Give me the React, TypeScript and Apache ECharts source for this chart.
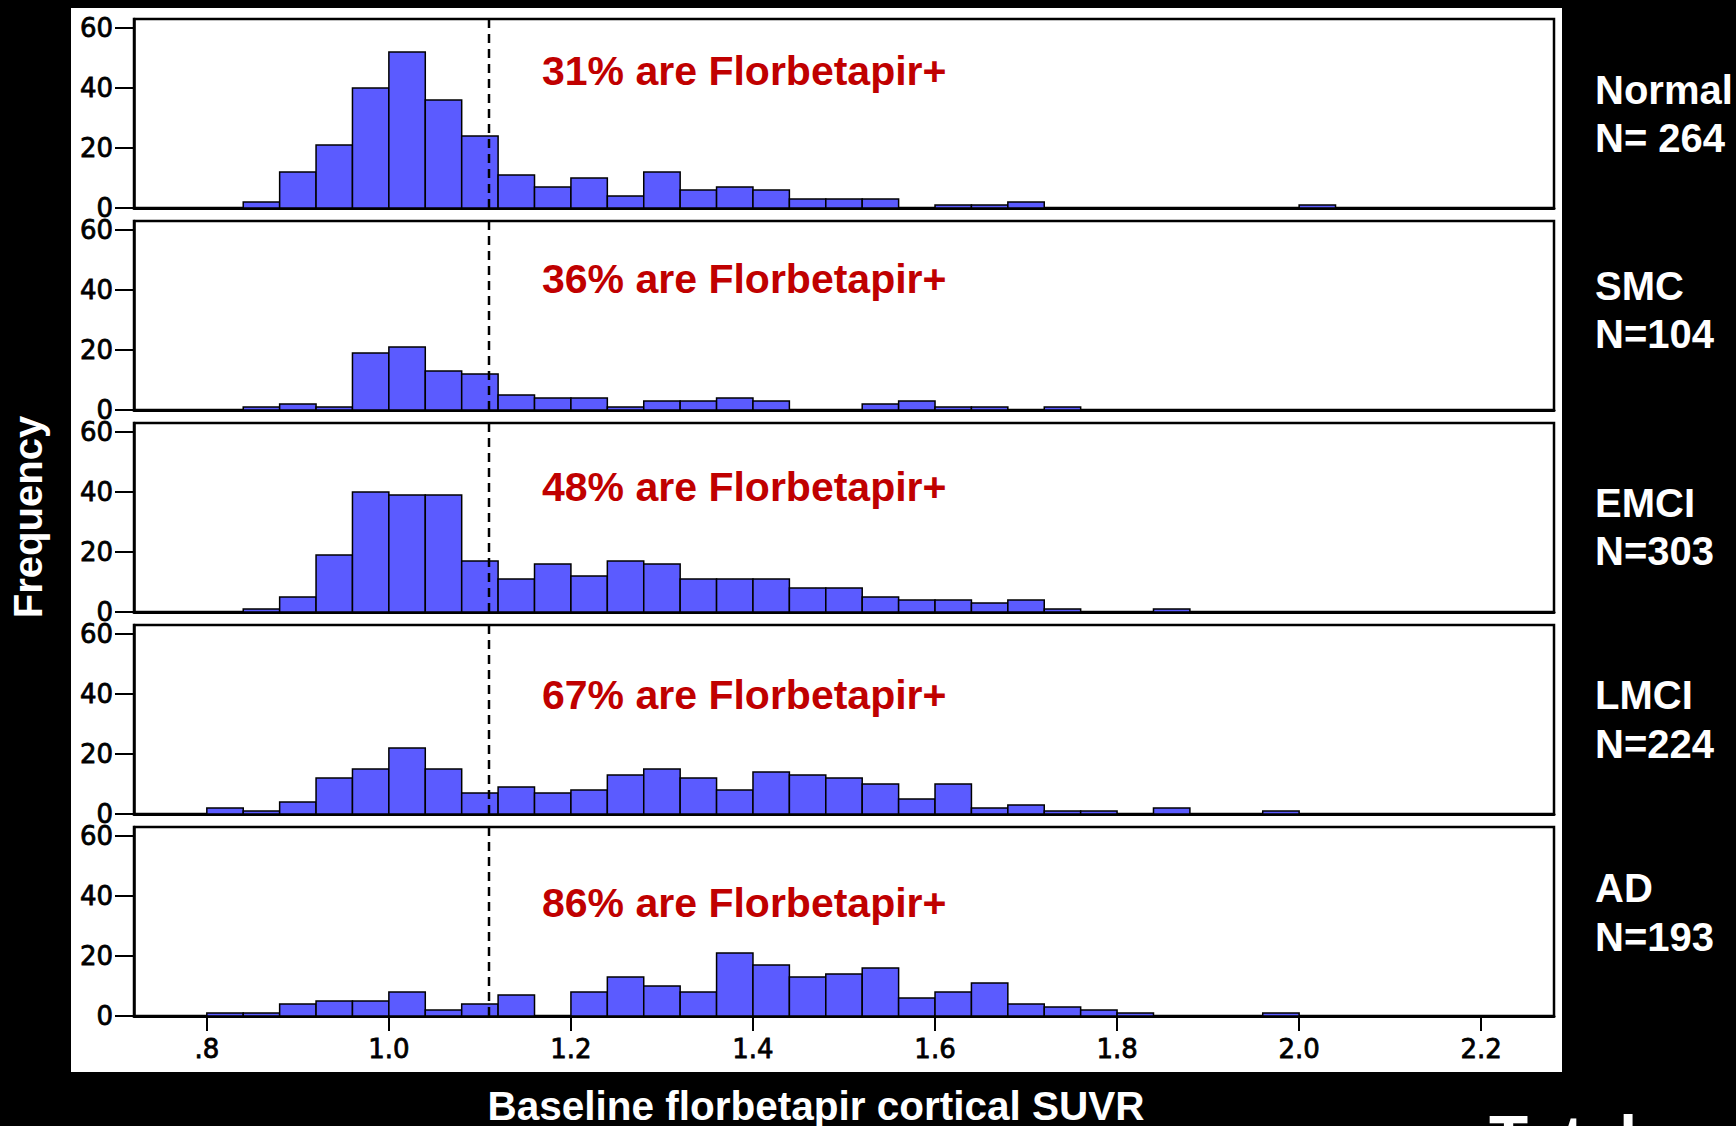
import React, { useEffect, useRef } from "react";
import * as echarts from "echarts";

// ---- DATA ----
const binStarts = [
  0.80, 0.84, 0.88, 0.92, 0.96, 1.00, 1.04, 1.08, 1.12, 1.16, 1.20, 1.24, 1.28, 1.32, 1.36, 1.40,
  1.44, 1.48, 1.52, 1.56, 1.60, 1.64, 1.68, 1.72, 1.76, 1.80, 1.84, 1.88, 1.92, 1.96, 2.00,
];
const binWidth = 0.04;

const groupNames = ["Normal", "SMC", "EMCI", "LMCI", "AD"];
const groupNs = ["N= 264", "N=104", "N=303", "N=224", "N=193"];
const positivePct = ["31%", "36%", "48%", "67%", "86%"];

const normalCounts = [0, 2, 12, 21, 40, 52, 36, 24, 11, 7, 10, 4, 12, 6, 7, 6, 3, 3, 3, 0, 1, 1, 2, 0, 0, 0, 0, 0, 0, 0, 1];
const smcCounts = [0, 1, 2, 1, 19, 21, 13, 12, 5, 4, 4, 1, 3, 3, 4, 3, 0, 0, 2, 3, 1, 1, 0, 1, 0, 0, 0, 0, 0, 0, 0];
const emciCounts = [0, 1, 5, 19, 40, 39, 39, 17, 11, 16, 12, 17, 16, 11, 11, 11, 8, 8, 5, 4, 4, 3, 4, 1, 0, 0, 1, 0, 0, 0, 0];
const lmciCounts = [2, 1, 4, 12, 15, 22, 15, 7, 9, 7, 8, 13, 15, 12, 8, 14, 13, 12, 10, 5, 10, 2, 3, 1, 1, 0, 2, 0, 0, 1, 0];
const adCounts = [1, 1, 4, 5, 5, 8, 2, 4, 7, 0, 8, 13, 10, 8, 21, 17, 13, 14, 16, 6, 8, 11, 4, 3, 2, 1, 0, 0, 0, 1, 0];
const allCounts = [normalCounts, smcCounts, emciCounts, lmciCounts, adCounts];

const yTicks = [0, 20, 40, 60];
const xTicks = [0.8, 1.0, 1.2, 1.4, 1.6, 1.8, 2.0, 2.2];
const xTickLabels = [".8", "1.0", "1.2", "1.4", "1.6", "1.8", "2.0", "2.2"];
const threshold = 1.11;
const xMin = 0.72;
const xMax = 2.28;
const yMax = 63;

const xAxisTitle = "Baseline florbetapir cortical SUVR";
const yAxisTitle = "Frequency";
const cutTitle = "Total";

// ---- LAYOUT ----
const gridTops = [19, 221, 423, 625, 827];
const gridHeight = 189;
const gridLeft = 134;
const gridRight = 182;
const redTextY = [71, 279, 487, 695, 903];
const groupLabelY = [90, 286, 503, 695, 888];
const groupNY = [138, 334, 551, 744, 937];

const BAR_FILL = "#5b5bff";
const RED = "#c00000";
const BOLD_FONT = "Liberation Sans, Arial, Helvetica, sans-serif";
const TICK_FONT = "DejaVu Sans, Verdana, sans-serif";

function buildOption() {
  const grids: any[] = [];
  const xAxes: any[] = [];
  const yAxes: any[] = [];
  const series: any[] = [];
  const graphics: any[] = [];

  graphics.push({
    type: "rect",
    z: -100,
    shape: { x: 71, y: 8, width: 1491, height: 1064 },
    style: { fill: "#ffffff" },
    silent: true,
  });

  groupNames.forEach((name, i) => {
    const isLast = i === groupNames.length - 1;
    grids.push({
      left: gridLeft,
      right: gridRight,
      top: gridTops[i],
      height: gridHeight,
      show: true,
      backgroundColor: "#ffffff",
      borderColor: "#000000",
      borderWidth: 2.5,
    });
    xAxes.push({
      type: "value",
      gridIndex: i,
      min: xMin,
      max: xMax,
      axisLine: { show: true, onZero: false, lineStyle: { color: "#000", width: 3 } },
      axisTick: {
        show: isLast,
        customValues: xTicks,
        length: 15,
        lineStyle: { color: "#000", width: 2 },
      },
      axisLabel: {
        show: isLast,
        customValues: xTicks,
        margin: 20,
        color: "#000",
        fontSize: 26,
        fontFamily: TICK_FONT,
        textBorderColor: "#000",
        textBorderWidth: 0.8,
        formatter: (v: number) => {
          const k = xTicks.findIndex((t) => Math.abs(t - v) < 1e-6);
          return k >= 0 ? xTickLabels[k] : "";
        },
      },
      splitLine: { show: false },
    });
    yAxes.push({
      type: "value",
      gridIndex: i,
      min: 0,
      max: yMax,
      axisLine: { show: true, lineStyle: { color: "#000", width: 2.5 } },
      axisTick: {
        show: true,
        customValues: yTicks,
        length: 19,
        lineStyle: { color: "#000", width: 2 },
      },
      axisLabel: {
        show: true,
        customValues: yTicks,
        margin: 21,
        color: "#000",
        fontSize: 26,
        fontFamily: TICK_FONT,
        textBorderColor: "#000",
        textBorderWidth: 0.8,
      },
      splitLine: { show: false },
    });

    const data = binStarts
      .map((b, k) => [b, b + binWidth, allCounts[i][k]])
      .filter((d) => d[2] > 0);

    series.push({
      type: "custom",
      name: name,
      xAxisIndex: i,
      yAxisIndex: i,
      coordinateSystem: "cartesian2d",
      encode: { x: [0, 1], y: 2 },
      data,
      z: 2,
      renderItem: (params: any, api: any) => {
        const p0 = api.coord([api.value(0), api.value(2)]);
        const p1 = api.coord([api.value(1), 0]);
        return {
          type: "rect",
          shape: { x: p0[0], y: p0[1], width: p1[0] - p0[0], height: p1[1] - p0[1] },
          style: { fill: BAR_FILL, stroke: "#000", lineWidth: 1.5 },
        };
      },
    });

    series.push({
      type: "line",
      xAxisIndex: i,
      yAxisIndex: i,
      data: [
        [threshold, 0],
        [threshold, yMax],
      ],
      symbol: "none",
      z: 5,
      lineStyle: { color: "#000", width: 2.5, type: [9, 6] },
      silent: true,
    });

    graphics.push({
      type: "text",
      z: 10,
      x: 542,
      y: redTextY[i],
      style: {
        text: positivePct[i] + " are Florbetapir+",
        fill: RED,
        fontSize: 41,
        fontWeight: "bold",
        fontFamily: BOLD_FONT,
        textAlign: "left",
        textVerticalAlign: "middle",
      },
    });
    graphics.push({
      type: "text",
      z: 10,
      x: 1595,
      y: groupLabelY[i],
      style: {
        text: name,
        fill: "#fff",
        fontSize: 40,
        fontWeight: "bold",
        fontFamily: BOLD_FONT,
        textAlign: "left",
        textVerticalAlign: "middle",
      },
    });
    graphics.push({
      type: "text",
      z: 10,
      x: 1595,
      y: groupNY[i],
      style: {
        text: groupNs[i],
        fill: "#fff",
        fontSize: 40,
        fontWeight: "bold",
        fontFamily: BOLD_FONT,
        textAlign: "left",
        textVerticalAlign: "middle",
      },
    });
  });

  graphics.push({
    type: "text",
    z: 10,
    x: 28,
    y: 517,
    rotation: Math.PI / 2,
    style: {
      text: yAxisTitle,
      fill: "#fff",
      fontSize: 40,
      fontWeight: "bold",
      fontFamily: BOLD_FONT,
      textAlign: "center",
      textVerticalAlign: "middle",
    },
  });
  graphics.push({
    type: "text",
    z: 10,
    x: 816,
    y: 1106,
    style: {
      text: xAxisTitle,
      fill: "#fff",
      fontSize: 40.5,
      fontWeight: "bold",
      fontFamily: BOLD_FONT,
      textAlign: "center",
      textVerticalAlign: "middle",
    },
  });
  graphics.push({
    type: "text",
    z: 10,
    x: 1489,
    y: 1107,
    style: {
      text: cutTitle,
      fill: "#fff",
      fontSize: 64,
      fontWeight: "bold",
      fontFamily: BOLD_FONT,
      textAlign: "left",
      textVerticalAlign: "top",
    },
  });

  return {
    animation: false,
    backgroundColor: "#000000",
    grid: grids,
    xAxis: xAxes,
    yAxis: yAxes,
    series,
    graphic: graphics,
  };
}

export default function App() {
  const ref = useRef<HTMLDivElement>(null);
  useEffect(() => {
    document.body.style.margin = "0";
    document.body.style.background = "#000";
    if (!ref.current) return;
    const chart = echarts.init(ref.current, undefined, { renderer: "svg" });
    chart.setOption(buildOption());
    return () => chart.dispose();
  }, []);
  return (
    <div
      ref={ref}
      style={{ position: "fixed", left: 0, top: 0, width: 1736, height: 1126, overflow: "hidden" }}
    />
  );
}
